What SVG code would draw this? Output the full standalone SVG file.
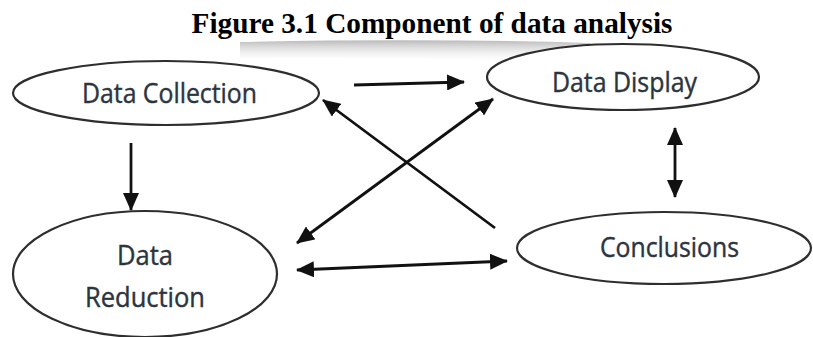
<svg xmlns="http://www.w3.org/2000/svg" width="813" height="337" viewBox="0 0 813 337">
  <defs>
    <style>
      .node ellipse { fill: #ffffff; stroke: #2e2e2e; stroke-width: 2.2; }
      .label { font-family: "Open Sans", "Noto Sans", sans-serif; font-size: 27px; fill: #2c343e; stroke: #2c343e; stroke-width: 0.4; text-anchor: middle; }
      .title { font-family: "Liberation Serif", "Times New Roman", serif; font-size: 30px; font-weight: bold; fill: #000000; text-anchor: middle; }
      #connectors line { stroke: #111111; stroke-width: 2.8; fill: none; }
    </style>
    <marker id="ah" viewBox="0 0 18 16" refX="17" refY="8" markerWidth="18" markerHeight="16" markerUnits="userSpaceOnUse" orient="auto-start-reverse">
      <path d="M0,0 L18,8 L0,16 z" fill="#111111"/>
    </marker>
    <linearGradient id="shade" x1="0" y1="0" x2="0" y2="1">
      <stop offset="0" stop-color="#a8a8a8" stop-opacity="0.8"/>
      <stop offset="1" stop-color="#ffffff" stop-opacity="0"/>
    </linearGradient>
  </defs>
  <rect width="813" height="337" fill="#ffffff"/>
  <path d="M 240,42 Q 430,38 590,43 L 590,64 Q 430,56 240,58 Z" fill="url(#shade)"/>
  <text class="title" x="432" y="33" textLength="481" lengthAdjust="spacingAndGlyphs">Figure 3.1 Component of data analysis</text>

  <g id="connectors">
    <line x1="354" y1="85" x2="464" y2="82" marker-end="url(#ah)"/>
    <line x1="131" y1="143" x2="131" y2="210" marker-end="url(#ah)"/>
    <line x1="495" y1="228" x2="323" y2="100" marker-end="url(#ah)"/>
    <line x1="297" y1="243" x2="493" y2="99" marker-start="url(#ah)" marker-end="url(#ah)"/>
    <line x1="297" y1="270" x2="507" y2="261" marker-start="url(#ah)" marker-end="url(#ah)"/>
    <line x1="675" y1="128" x2="675" y2="197" marker-start="url(#ah)" marker-end="url(#ah)"/>
  </g>

  <g id="data-collection" class="node">
    <ellipse cx="166" cy="93" rx="153" ry="32"/>
    <text class="label" x="169.5" y="103" textLength="175" lengthAdjust="spacingAndGlyphs">Data Collection</text>
  </g>
  <g id="data-display" class="node">
    <ellipse cx="623" cy="77" rx="136" ry="33"/>
    <text class="label" x="624.5" y="92" textLength="145" lengthAdjust="spacingAndGlyphs">Data Display</text>
  </g>
  <g id="data-reduction" class="node">
    <ellipse cx="145" cy="274" rx="132" ry="63"/>
    <text class="label" x="145" y="265" textLength="56" lengthAdjust="spacingAndGlyphs">Data</text>
    <text class="label" x="145" y="307" textLength="120" lengthAdjust="spacingAndGlyphs">Reduction</text>
  </g>
  <g id="conclusions" class="node">
    <ellipse cx="664" cy="248" rx="147" ry="36"/>
    <text class="label" x="669.5" y="257" textLength="139" lengthAdjust="spacingAndGlyphs">Conclusions</text>
  </g>
</svg>
